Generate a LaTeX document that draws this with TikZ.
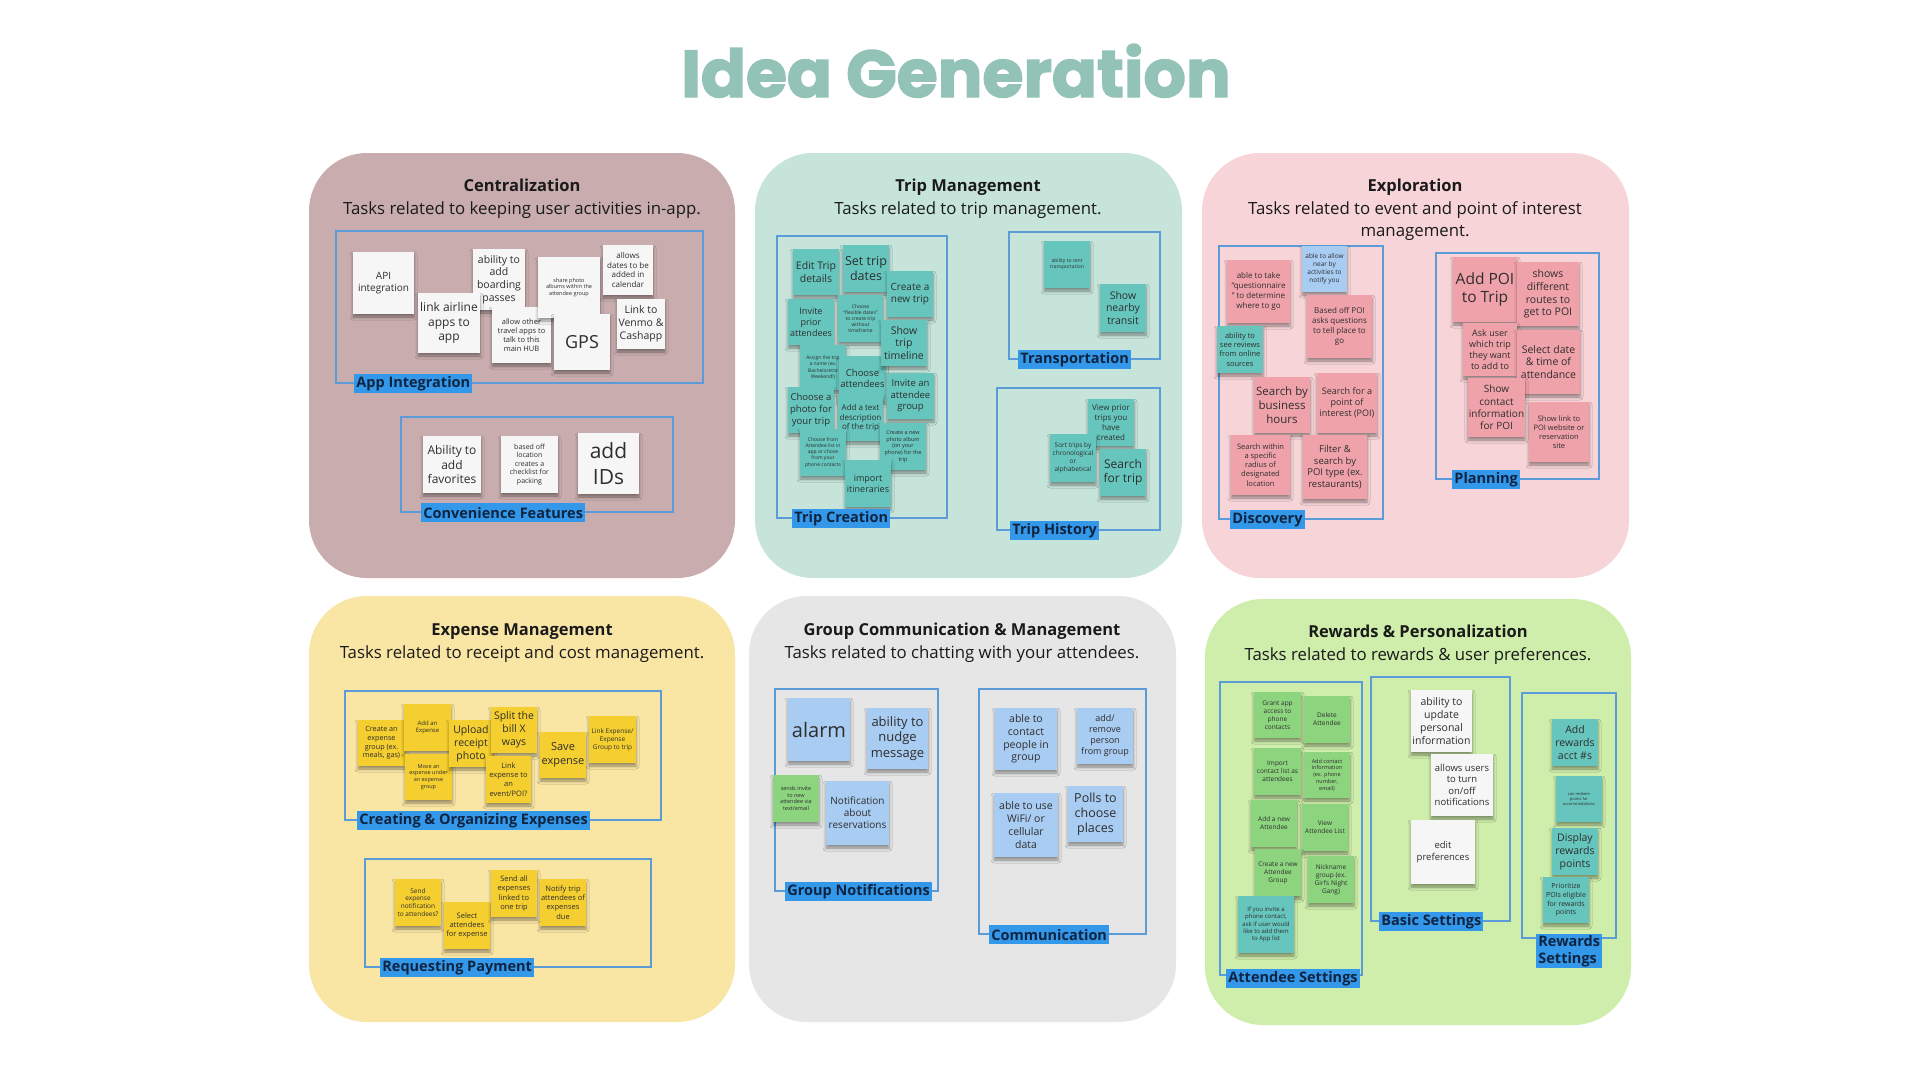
\documentclass[tikz,border=0pt]{standalone}
\usepackage{fontspec}
\usepackage{graphicx}
\setmainfont{Open Sans}
\newfontfamily\titlefont{Poppins}[BoldFeatures={FakeBold=2.2}]
\usetikzlibrary{shadows.blur}

\definecolor{bgA}{HTML}{C9ADAE}
\definecolor{bgB}{HTML}{C7E4DB}
\definecolor{bgC}{HTML}{F7D4D7}
\definecolor{bgD}{HTML}{FAE6A4}
\definecolor{bgE}{HTML}{E6E6E6}
\definecolor{bgF}{HTML}{CFEDAB}
\definecolor{nwhite}{HTML}{F6F6F6}
\definecolor{nteal}{HTML}{66C6BD}
\definecolor{npink}{HTML}{F0A2AA}
\definecolor{nblue}{HTML}{A9CCF2}
\definecolor{nyellow}{HTML}{F5CF30}
\definecolor{ngreen}{HTML}{8DD47F}
\definecolor{framecol}{HTML}{5B9BD8}
\definecolor{tagcol}{HTML}{3498EA}
\definecolor{tagtext}{HTML}{0F2440}
\definecolor{titlecol}{HTML}{93C2B7}
\definecolor{notetext}{HTML}{2E2E2E}
\definecolor{headtext}{HTML}{1A1A1A}

\tikzset{
  panel/.style={rounded corners=58pt, draw=none, inner sep=0pt},
  note/.style={inner sep=1pt, align=center, text=notetext,
    blur shadow={shadow xshift=0pt, shadow yshift=-3pt, shadow blur radius=3pt,
      shadow blur steps=4, shadow opacity=40}},
  grpframe/.style={draw=framecol, line width=1.6pt, inner sep=0pt},
  tagbox/.style={fill=tagcol, text=tagtext, font=\bfseries\fontsize{14.5pt}{17pt}\selectfont,
    inner xsep=2pt, inner ysep=1pt, minimum height=19pt, anchor=west},
  htitle/.style={font=\bfseries\fontsize{16.5pt}{19pt}\selectfont, text=headtext, anchor=base},
  hsub/.style={font=\fontsize{16.8pt}{19pt}\selectfont, text=headtext, anchor=base},
}

% name, x1, y1, x2, y2, colour, font size, text
\newcommand\sticky[8]{%
  \pgfmathsetmacro\stW{#4-#2}%
  \pgfmathsetmacro\stH{#5-#3}%
  \pgfmathsetmacro\stX{(#2+#4)/2}%
  \pgfmathsetmacro\stY{(#3+#5)/2}%
  \pgfmathsetmacro\stL{#7*1.22}%
  \node[note, fill=#6, minimum width=\stW pt, minimum height=\stH pt,
    font={\fontsize{#7pt}{\stL pt}\selectfont}] (#1) at (\stX,\stY) {#8};%
}
% name, x1, y1, x2, y2
\newcommand\mkframe[5]{%
  \pgfmathsetmacro\stW{#4-#2}%
  \pgfmathsetmacro\stH{#5-#3}%
  \pgfmathsetmacro\stX{(#2+#4)/2}%
  \pgfmathsetmacro\stY{(#3+#5)/2}%
  \node[grpframe, minimum width=\stW pt, minimum height=\stH pt] (#1) at (\stX,\stY) {};%
}
% name, x1, y1, x2, y2, colour
\newcommand\mkpanel[6]{%
  \pgfmathsetmacro\stW{#4-#2}%
  \pgfmathsetmacro\stH{#5-#3}%
  \pgfmathsetmacro\stX{(#2+#4)/2}%
  \pgfmathsetmacro\stY{(#3+#5)/2}%
  \node[panel, fill=#6, minimum width=\stW pt, minimum height=\stH pt] (#1) at (\stX,\stY) {};%
}

\begin{document}
\begin{tikzpicture}[x=1pt, y=-1pt]
\useasboundingbox (0,0) rectangle (1920,1080);
\fill[white] (0,0) rectangle (1920,1080);

% title
\node[anchor=base, text=titlecol, inner sep=0pt] (title) at (956,97)
  {\resizebox{549pt}{53pt}{\titlefont\bfseries Idea Generation}};

% panels
\mkpanel{pA}{309}{153}{735}{578}{bgA}
\mkpanel{pB}{755}{153}{1182}{578}{bgB}
\mkpanel{pC}{1202}{153}{1629}{578}{bgC}
\mkpanel{pD}{309}{596}{735}{1022}{bgD}
\mkpanel{pE}{749}{596}{1176}{1022}{bgE}
\mkpanel{pF}{1205}{599}{1631}{1025}{bgF}

% headers
\node[htitle] (h1) at (522,191) {Centralization};
\node[hsub] (s1) at (522,214) {Tasks related to keeping user activities in-app.};
\node[htitle] (h2) at (968,191) {Trip Management};
\node[hsub] (s2) at (968,214) {Tasks related to trip management.};
\node[htitle] (h3) at (1415,191) {Exploration};
\node[hsub] (s3a) at (1415,214) {Tasks related to event and point of interest};
\node[hsub] (s3b) at (1415,236) {management.};
\node[htitle] (h4) at (522,635) {Expense Management};
\node[hsub] (s4) at (522,658) {Tasks related to receipt and cost management.};
\node[htitle] (h5) at (962,635) {Group Communication \& Management};
\node[hsub] (s5) at (962,658) {Tasks related to chatting with your attendees.};
\node[htitle] (h6) at (1418,637) {Rewards \& Personalization};
\node[hsub] (s6) at (1418,660) {Tasks related to rewards \& user preferences.};

% group frames
\mkframe{fApp}{336}{231}{703}{383}
\mkframe{fConv}{401}{417}{673}{512}
\mkframe{fTripC}{777}{236}{947}{518}
\mkframe{fTrans}{1009}{232}{1160}{359}
\mkframe{fHist}{997}{388}{1160}{530}
\mkframe{fDisc}{1219}{246}{1383}{519}
\mkframe{fPlan}{1436}{253}{1599}{479}
\mkframe{fCreate}{345}{691}{661}{820}
\mkframe{fReq}{365}{859}{651}{967}
\mkframe{fGN}{775}{689}{938}{891}
\mkframe{fComm}{979}{689}{1146}{934}
\mkframe{fAtt}{1220}{682}{1362}{975}
\mkframe{fBasic}{1371}{677}{1510}{921}
\mkframe{fRew}{1522}{693}{1616}{938}

% Centralization notes
\sticky{c1}{353}{252}{414}{314}{nwhite}{10}{API\\integration}
\sticky{c2}{473}{249}{525}{310}{nwhite}{10.5}{ability to\\add\\boarding\\passes}
\sticky{c3}{418}{293}{480}{353}{nwhite}{12}{link airline\\apps to\\app}
\sticky{c4}{492}{307}{551}{363}{nwhite}{7.5}{allow other\\travel apps to\\talk to this\\main HUB}
\sticky{c5}{538}{257}{600}{318}{nwhite}{5.5}{share photo\\albums within the\\attendee group}
\sticky{c6}{554}{314}{610}{370}{nwhite}{18}{GPS}
\sticky{c7}{603}{245}{653}{295}{nwhite}{8}{allows\\dates to be\\added in\\calendar}
\sticky{c8}{617}{299}{665}{349}{nwhite}{10.5}{Link to\\Venmo \&\\Cashapp}
\sticky{c9}{423}{436}{481}{493}{nwhite}{12}{Ability to\\add\\favorites}
\sticky{c10}{501}{436}{558}{493}{nwhite}{7}{based off\\location\\creates a\\checklist for\\packing}
\sticky{c11}{578}{433}{639}{494}{nwhite}{21}{add\\IDs}

% Trip Management notes
\sticky{t1}{793}{249}{839}{295}{nteal}{10.5}{Edit Trip\\details}
\sticky{t2}{843}{245}{889}{292}{nteal}{12.5}{Set trip\\dates}
\sticky{t3}{887}{271}{933}{317}{nteal}{10}{Create a\\new trip}
\sticky{t4}{788}{299}{834}{345}{nteal}{9}{Invite\\prior\\attendees}
\sticky{t5}{838}{295}{883}{342}{nteal}{5}{Choose\\“flexible dates”\\to create trip\\without\\timeframe}
\sticky{t7}{800}{345}{846}{390}{nteal}{5}{Assign the trip\\a name (ex.\\Bachelorette\\Weekend!)}
\sticky{t8}{840}{356}{885}{401}{nteal}{9.5}{Choose\\attendees}
\sticky{t6}{881}{320}{927}{366}{nteal}{10.5}{Show\\trip\\timeline}
\sticky{t9}{887}{373}{934}{419}{nteal}{9.5}{Invite an\\attendee\\group}
\sticky{t10}{788}{387}{834}{433}{nteal}{9.5}{Choose a\\photo for\\your trip}
\sticky{t11}{838}{395}{883}{441}{nteal}{8}{Add a text\\description\\of the trip}
\sticky{t12}{800}{429}{846}{476}{nteal}{5}{Choose from\\Attendee list in\\app or chose\\from your\\phone contacts}
\sticky{t13}{880}{423}{926}{470}{nteal}{5.5}{Create a new\\photo album\\(on your\\phone) for the\\trip}
\sticky{t14}{845}{460}{891}{507}{nteal}{9}{import\\itineraries}
\sticky{t15}{1044}{241}{1090}{288}{nteal}{5}{ability to rent\\transportation}
\sticky{t16}{1100}{284}{1146}{332}{nteal}{10.5}{Show\\nearby\\transit}
\sticky{t17}{1088}{399}{1134}{446}{nteal}{8}{View prior\\trips you\\have\\created}
\sticky{t18}{1050}{434}{1096}{482}{nteal}{6.5}{Sort trips by\\chronological\\or\\alphabetical}
\sticky{t19}{1100}{449}{1146}{496}{nteal}{12}{Search\\for trip}

% Exploration notes
\sticky{e1}{1227}{260}{1290}{323}{npink}{8}{able to take\\“questionnaire\\” to determine\\where to go}
\sticky{e2}{1302}{246}{1347}{292}{nblue}{6.5}{able to allow\\near by\\activities to\\notify you}
\sticky{e3}{1307}{295}{1372}{358}{npink}{8}{Based off POI\\asks questions\\to tell place to\\go}
\sticky{e4}{1217}{326}{1263}{373}{nteal}{7.5}{ability to\\see reviews\\from online\\sources}
\sticky{e5}{1254}{377}{1310}{433}{npink}{11.5}{Search by\\business\\hours}
\sticky{e6}{1317}{373}{1377}{433}{npink}{9}{Search for a\\point of\\interest (POI)}
\sticky{e7}{1231}{435}{1290}{495}{npink}{7.5}{Search within\\a specific\\radius of\\designated\\location}
\sticky{e8}{1303}{435}{1367}{499}{npink}{9.5}{Filter \&\\search by\\POI type (ex.\\restaurants)}
\sticky{e9}{1453}{257}{1517}{322}{npink}{15.5}{Add POI\\to Trip}
\sticky{e10}{1517}{262}{1579}{326}{npink}{10.5}{shows\\different\\routes to\\get to POI}
\sticky{e11}{1463}{323}{1517}{376}{npink}{9}{Ask user\\which trip\\they want\\to add to}
\sticky{e12}{1517}{330}{1580}{394}{npink}{10.5}{Select date\\\& time of\\attendance}
\sticky{e13}{1468}{378}{1525}{437}{npink}{10}{Show\\contact\\information\\for POI}
\sticky{e14}{1529}{402}{1589}{462}{npink}{7.5}{Show link to\\POI website or\\reservation\\site}

% Expense notes
\sticky{x1}{358}{720}{405}{766}{nyellow}{7.2}{Create an\\expense\\group (ex.\\meals, gas)}
\sticky{x2}{404}{704}{451}{751}{nyellow}{6}{Add an\\Expense}
\sticky{x3}{405}{754}{452}{800}{nyellow}{5.5}{Move an\\expense under\\an expense\\group}
\sticky{x4}{449}{720}{493}{767}{nyellow}{10.5}{Upload\\receipt\\photo}
\sticky{x5}{491}{707}{537}{753}{nyellow}{10.5}{Split the\\bill X\\ways}
\sticky{x6}{486}{756}{531}{803}{nyellow}{7.5}{Link\\expense to\\an\\event/POI?}
\sticky{x7}{540}{732}{586}{778}{nyellow}{11}{Save\\expense}
\sticky{x8}{589}{716}{636}{763}{nyellow}{6.5}{Link Expense/\\Expense\\Group to trip}
\sticky{x9}{395}{879}{441}{926}{nyellow}{6.5}{Send\\expense\\notification\\to attendees?}
\sticky{x10}{444}{902}{490}{949}{nyellow}{7.5}{Select\\attendees\\for expense}
\sticky{x11}{491}{870}{537}{917}{nyellow}{7.5}{Send all\\expenses\\linked to\\one trip}
\sticky{x12}{540}{879}{586}{926}{nyellow}{7.5}{Notify trip\\attendees of\\expenses\\due}

% Group communication notes
\sticky{g1}{788}{698}{850}{761}{nblue}{20}{alarm}
\sticky{g2}{867}{708}{928}{769}{nblue}{13}{ability to\\nudge\\message}
\sticky{g3}{773}{775}{819}{822}{ngreen}{5.5}{sends invite\\to new\\attendee via\\text/email}
\sticky{g4}{826}{781}{889}{845}{nblue}{10}{Notification\\about\\reservations}
\sticky{g5}{995}{708}{1057}{770}{nblue}{10.5}{able to\\contact\\people in\\group}
\sticky{g6}{1077}{708}{1133}{764}{nblue}{9}{add/\\remove\\person\\from group}
\sticky{g7}{994}{793}{1058}{857}{nblue}{10.5}{able to use\\WiFi/ or\\cellular\\data}
\sticky{g8}{1068}{786}{1123}{842}{nblue}{12.5}{Polls to\\choose\\places}

% Rewards notes
\sticky{r1}{1254}{692}{1301}{738}{ngreen}{6.5}{Grant app\\access to\\phone\\contacts}
\sticky{r2}{1304}{696}{1350}{743}{ngreen}{6.5}{Delete\\Attendee}
\sticky{r3}{1254}{748}{1301}{795}{ngreen}{6.5}{Import\\contact list as\\attendees}
\sticky{r4}{1304}{752}{1350}{798}{ngreen}{5.5}{Add contact\\information\\(ex. phone\\number,\\email)}
\sticky{r5}{1251}{800}{1297}{847}{ngreen}{6.5}{Add a new\\Attendee}
\sticky{r6}{1302}{804}{1348}{851}{ngreen}{6.5}{View\\Attendee List}
\sticky{r7}{1255}{849}{1301}{896}{ngreen}{6.5}{Create a new\\Attendee\\Group}
\sticky{r8}{1308}{856}{1354}{903}{ngreen}{6.5}{Nickname\\group (ex.\\Girl's Night\\Gang)}
\sticky{r9}{1238}{896}{1294}{953}{nteal}{6}{If you invite a\\phone contact,\\ask if user would\\like to add them\\to App list}
\sticky{r10}{1411}{690}{1472}{752}{nwhite}{10.5}{ability to\\update\\personal\\information}
\sticky{r11}{1431}{754}{1493}{816}{nwhite}{9.5}{allows users\\to turn\\on/off\\notifications}
\sticky{r12}{1411}{820}{1475}{884}{nwhite}{9.5}{edit\\preferences}
\sticky{r13}{1552}{719}{1598}{766}{nteal}{10.5}{Add\\rewards\\acct \#s}
\sticky{r14}{1556}{776}{1602}{822}{nteal}{4}{can redeem\\points for\\accommodations}
\sticky{r15}{1552}{828}{1598}{875}{nteal}{10.5}{Display\\rewards\\points}
\sticky{r16}{1543}{877}{1589}{923}{nteal}{7}{Prioritize\\POIs eligible\\for rewards\\points}

% group labels
\node[tagbox] (gApp) at ([xshift=19pt]fApp.south west) {App Integration};
\node[tagbox] (gConv) at ([xshift=21pt]fConv.south west) {Convenience Features};
\node[tagbox] (gTripC) at ([xshift=16pt]fTripC.south west) {Trip Creation};
\node[tagbox] (gTrans) at ([xshift=10pt]fTrans.south west) {Transportation};
\node[tagbox] (gHist) at ([xshift=14pt]fHist.south west) {Trip History};
\node[tagbox] (gDisc) at ([xshift=12pt]fDisc.south west) {Discovery};
\node[tagbox] (gPlan) at ([xshift=17pt]fPlan.south west) {Planning};
\node[tagbox] (gCreate) at ([xshift=13pt]fCreate.south west) {Creating \& Organizing Expenses};
\node[tagbox] (gReq) at ([xshift=16pt]fReq.south west) {Requesting Payment};
\node[tagbox] (gGN) at ([xshift=11pt]fGN.south west) {Group Notifications};
\node[tagbox] (gComm) at ([xshift=11pt]fComm.south west) {Communication};
\node[tagbox] (gAtt) at ([xshift=7pt, yshift=-3pt]fAtt.south west) {Attendee Settings};
\node[tagbox] (gBasic) at ([xshift=9pt]fBasic.south west) {Basic Settings};
\node[tagbox, anchor=north west, align=left] (gRew) at ([xshift=15pt, yshift=5pt]fRew.south west) {Rewards\\Settings};
\end{tikzpicture}
\end{document}
